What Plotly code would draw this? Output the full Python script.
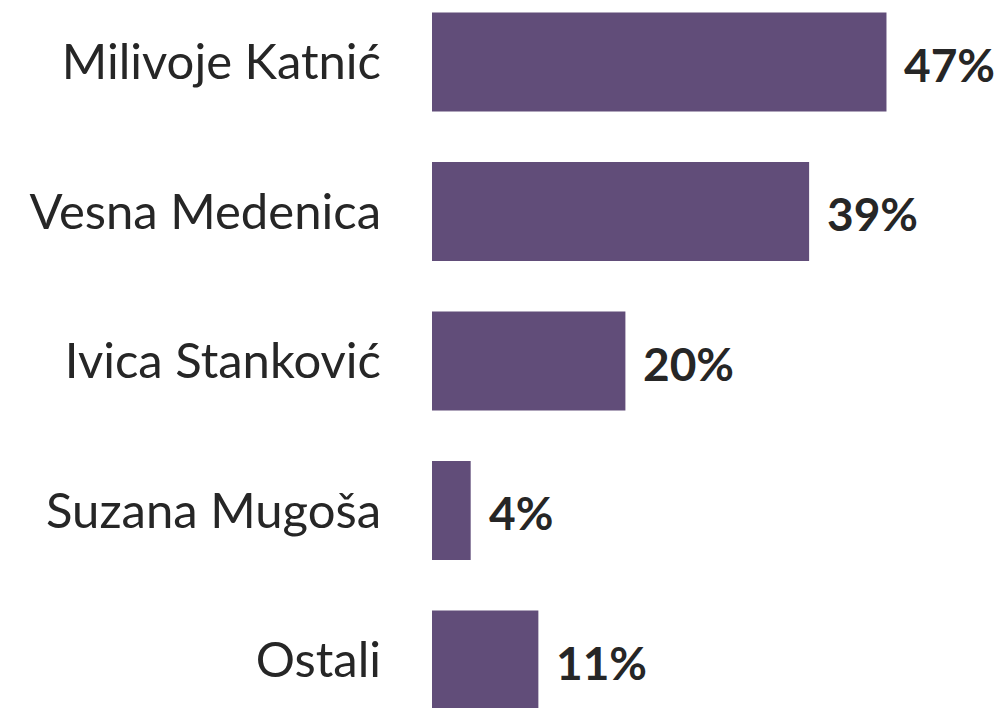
import plotly.graph_objects as go

categories = ["Milivoje Katnić", "Vesna Medenica", "Ivica Stanković", "Suzana Mugoša", "Ostali"]
values = [47, 39, 20, 4, 11]
value_labels = ["47%", "39%", "20%", "4%", "11%"]

BAR_COLOR = "#614D79"
TEXT_COLOR = "#262626"
FONT = "Lato"

fig = go.Figure()
fig.add_trace(go.Bar(
    x=values,
    y=categories,
    orientation="h",
    marker=dict(color=BAR_COLOR, line=dict(width=0)),
    width=0.662,
    hoverinfo="skip",
))

for cat, val, lab in zip(categories, values, value_labels):
    fig.add_annotation(
        x=val, y=cat, text="<b>" + lab + "</b>",
        showarrow=False, xanchor="left", yanchor="middle",
        xshift=16, yshift=-2,
        font=dict(family=FONT, size=46, color=TEXT_COLOR),
    )

fig.update_layout(
    width=1006, height=708,
    margin=dict(l=432, r=0, t=0, b=0, pad=0),
    paper_bgcolor="white", plot_bgcolor="white",
    showlegend=False,
    font=dict(family=FONT, color=TEXT_COLOR),
)
fig.update_xaxes(
    range=[0, 59.36], visible=False, showgrid=False, zeroline=False,
)
fig.update_yaxes(
    type="category",
    categoryorder="array", categoryarray=categories,
    range=[4.321, -0.4147],
    showgrid=False, zeroline=False, showline=False,
    ticks="", ticklabelstandoff=50,
    tickfont=dict(family=FONT, size=49, color=TEXT_COLOR),
)

fig.write_html("out.html", config={"displayModeBar": False},
               post_script="document.body.style.margin='0';")
